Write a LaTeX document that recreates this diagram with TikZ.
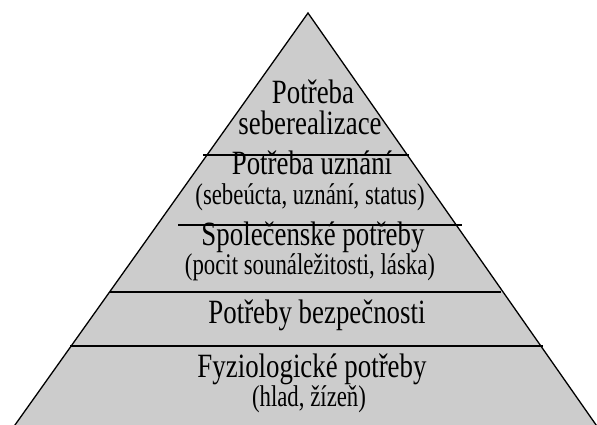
\documentclass[tikz,border=0pt]{standalone}
\usepackage{fontspec}
\setmainfont{Liberation Serif}
\newfontfamily\titlefont[FakeStretch=0.79]{Liberation Serif}
\newfontfamily\subfont[FakeStretch=0.76]{Liberation Serif}
\begin{document}
\begin{tikzpicture}[x=1pt,y=-1pt,
  edge/.style={draw=black,line width=1.3pt},
  sep/.style={draw=black,line width=1.6pt},
  lbl/.style={anchor=base,inner sep=0pt,font=\titlefont\fontsize{34}{34}\selectfont},
  sub/.style={anchor=base,inner sep=0pt,font=\subfont\fontsize{30}{30}\selectfont}]
\useasboundingbox (0,0) rectangle (597,425);
\clip (0,0) rectangle (597,425);
\coordinate (apex) at (308,13);
\coordinate (bl) at (10,432);
\coordinate (br) at (601,432);
\fill[black!20] (apex) -- (bl) -- (br) -- cycle;
\draw[edge,line join=miter] (bl) -- (apex) -- (br);
% separators
\coordinate (a1) at (203,155); \coordinate (b1) at (409,155);
\coordinate (a2) at (178,225); \coordinate (b2) at (462,225);
\coordinate (a3) at (110,292); \coordinate (b3) at (501,292);
\coordinate (a4) at (70,346);  \coordinate (b4) at (543,346);
\draw[sep] (a1) -- (b1);
\draw[sep] (a2) -- (b2);
\draw[sep] (a3) -- (b3);
\draw[sep] (a4) -- (b4);
% labels
\node[lbl] (t1a) at (313,104) {Potřeba};
\node[lbl] (t1b) at (310,135) {seberealizace};
\node[lbl] (t2a) at (312,175) {Potřeba uznání};
\node[sub] (t2b) at (310,204) {(sebeúcta, uznání, status)};
\node[lbl] (t3a) at (313,245) {Společenské potřeby};
\node[sub] (t3b) at (310,274) {(pocit sounáležitosti, láska)};
\node[lbl] (t4) at (317,323) {Potřeby bezpečnosti};
\node[lbl] (t5a) at (312,377) {Fyziologické potřeby};
\node[sub] (t5b) at (309,406) {(hlad, žízeň)};
\end{tikzpicture}
\end{document}
